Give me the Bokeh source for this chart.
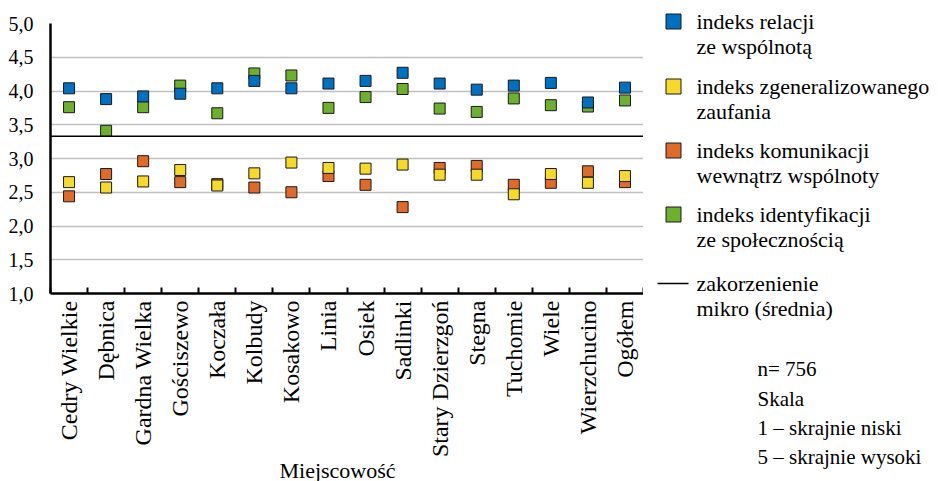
from bokeh.plotting import figure
from bokeh.models import (FixedTicker, CustomJSTickFormatter, Range1d, Span, Label,
                          ColumnDataSource)
from bokeh.layouts import row, column
from bokeh.core.properties import value
from bokeh.embed import file_html
from bokeh.resources import INLINE
import math

# ---------------- data ----------------
categories = ["Cedry Wielkie", "Dębnica", "Gardna Wielka", "Gościszewo", "Koczała",
              "Kolbudy", "Kosakowo", "Linia", "Osiek", "Sadlinki", "Stary Dzierzgoń",
              "Stegna", "Tuchomie", "Wiele", "Wierzchucino", "Ogółem"]

relacji = [4.04, 3.88, 3.92, 3.96, 4.04, 4.15, 4.04, 4.11, 4.15, 4.27, 4.11, 4.02, 4.08, 4.12, 3.83, 4.05]
zaufania = [2.65, 2.57, 2.66, 2.83, 2.60, 2.78, 2.94, 2.86, 2.85, 2.91, 2.76, 2.76, 2.47, 2.77, 2.64, 2.74]
komunikacji = [2.44, 2.77, 2.96, 2.65, 2.62, 2.57, 2.50, 2.74, 2.61, 2.28, 2.86, 2.89, 2.61, 2.64, 2.81, 2.65]
identyfikacji = [3.76, 3.41, 3.76, 4.08, 3.67, 4.26, 4.23, 3.75, 3.91, 4.03, 3.74, 3.69, 3.89, 3.79, 3.77, 3.86]
zakorzenienie_srednia = 3.33

y_ticks = [1.0, 1.5, 2.0, 2.5, 3.0, 3.5, 4.0, 4.5, 5.0]
y_labels = ["1,0", "1,5", "2,0", "2,5", "3,0", "3,5", "4,0", "4,5", "5,0"]

legend_lines = [("indeks relacji", "ze wspólnotą"),
                ("indeks zgeneralizowanego", "zaufania"),
                ("indeks komunikacji", "wewnątrz wspólnoty"),
                ("indeks identyfikacji", "ze społecznością"),
                ("zakorzenienie", "mikro (średnia)")]
notes = ["n= 756", "Skala", "1 \u2013 skrajnie niski", "5 \u2013 skrajnie wysoki"]
x_title = "Miejscowość"

colors = {"relacji": "#0070C0", "zaufania": "#F5DA2A", "komunikacji": "#DE6B2A", "identyfikacji": "#6DAF2E"}
FONT = "Liberation Serif"

# ---------------- main plot ----------------
n = len(categories)
centers = [i + 0.5 for i in range(n)]
bounds = list(range(n + 1))

p = figure(width=643, height=460, x_range=Range1d(0, n), y_range=Range1d(1, 5),
           output_backend="svg", toolbar_location=None,
           min_border_left=50, min_border_right=0, min_border_top=23, min_border_bottom=165)
p.frame_align = False
p.outline_line_color = None
p.background_fill_color = "white"
p.border_fill_color = "white"

p.xgrid.visible = False
p.ygrid.ticker = FixedTicker(ticks=y_ticks)
p.ygrid.grid_line_color = "#c0c0c0"
p.ygrid.grid_line_width = 1.5

fmt_code = """
const i = tv.findIndex(t => Math.abs(t - tick) < 1e-6);
return i >= 0 ? lab[i] : '';
"""

yax = p.yaxis[0]
yax.ticker = FixedTicker(ticks=y_ticks)
yax.formatter = CustomJSTickFormatter(args=dict(tv=y_ticks, lab=y_labels), code=fmt_code)
yax.axis_line_width = 2.5
yax.axis_line_color = "black"
yax.major_tick_line_color = None
yax.minor_tick_line_color = None
yax.major_label_standoff = 11
yax.major_label_text_font = FONT
yax.major_label_text_font_size = "20px"
yax.major_label_text_color = "black"

xax = p.xaxis[0]
xax.ticker = FixedTicker(ticks=centers, minor_ticks=bounds)
xax.formatter = CustomJSTickFormatter(args=dict(tv=centers, lab=categories), code=fmt_code)
xax.axis_line_width = 2.5
xax.axis_line_color = "black"
xax.major_tick_in = 0
xax.major_tick_out = 0
xax.major_tick_line_color = None
xax.minor_tick_in = 6
xax.minor_tick_out = 0
xax.minor_tick_line_color = "black"
xax.minor_tick_line_width = 2
xax.major_label_orientation = math.pi / 2
xax.major_label_standoff = 7
xax.major_label_text_font = FONT
xax.major_label_text_font_size = "24px"
xax.major_label_text_color = "black"

p.add_layout(Span(location=zakorzenienie_srednia, dimension="width",
                  line_color="black", line_width=1.5))

def add_series(vals, color):
    src = ColumnDataSource(dict(x=centers, v=vals))
    p.scatter(x="x", y="v", source=src, marker="square", size=11,
              fill_color=color, line_color="#1a1a1a", line_width=1)

add_series(identyfikacji, colors["identyfikacji"])
add_series(relacji, colors["relacji"])
add_series(komunikacji, colors["komunikacji"])
add_series(zaufania, colors["zaufania"])

# ---------------- axis title strip below the main plot ----------------
t = figure(width=643, height=21, x_range=Range1d(0, 643), y_range=Range1d(481, 460),
           output_backend="svg", toolbar_location=None, x_axis_type=None, y_axis_type=None,
           min_border=0)
t.frame_align = False
t.outline_line_color = None
t.xgrid.visible = False
t.ygrid.visible = False
t.text(x=[337], y=[470], text=[x_title], text_font=value(FONT), text_font_size="22px",
       text_align="center", text_baseline="middle", text_color="black")

# ---------------- side panel (legend + notes) ----------------
s = figure(width=295, height=481, x_range=Range1d(0, 295), y_range=Range1d(481, 0),
           output_backend="svg", toolbar_location=None, x_axis_type=None, y_axis_type=None,
           min_border=0)
s.frame_align = False
s.outline_line_color = None
s.xgrid.visible = False
s.ygrid.visible = False

sq_y = [21, 86, 150, 214]
s.scatter(x=[30] * 4, y=sq_y, marker="square", size=15,
          fill_color=[colors["relacji"], colors["zaufania"], colors["komunikacji"], colors["identyfikacji"]],
          line_color="#1a1a1a", line_width=1)
s.segment(x0=[14], y0=[283], x1=[45], y1=[283], line_color="black", line_width=1.5)

item_y = sq_y + [283]
for (l1, l2), yy in zip(legend_lines, item_y):
    for txt, ly in ((l1, yy), (l2, yy + 25)):
        s.add_layout(Label(x=53, y=ly, text=txt, text_font=FONT, text_font_size="22px",
                           text_baseline="middle", text_align="left", text_color="black"))

for txt, ly in zip(notes, [368, 398, 427, 456]):
    s.add_layout(Label(x=114, y=ly, text=txt, text_font=FONT, text_font_size="21px",
                       text_baseline="middle", text_align="left", text_color="black"))

layout = row(column(p, t, spacing=0), s, spacing=0)
open("out.html", "w").write(file_html(layout, INLINE))
